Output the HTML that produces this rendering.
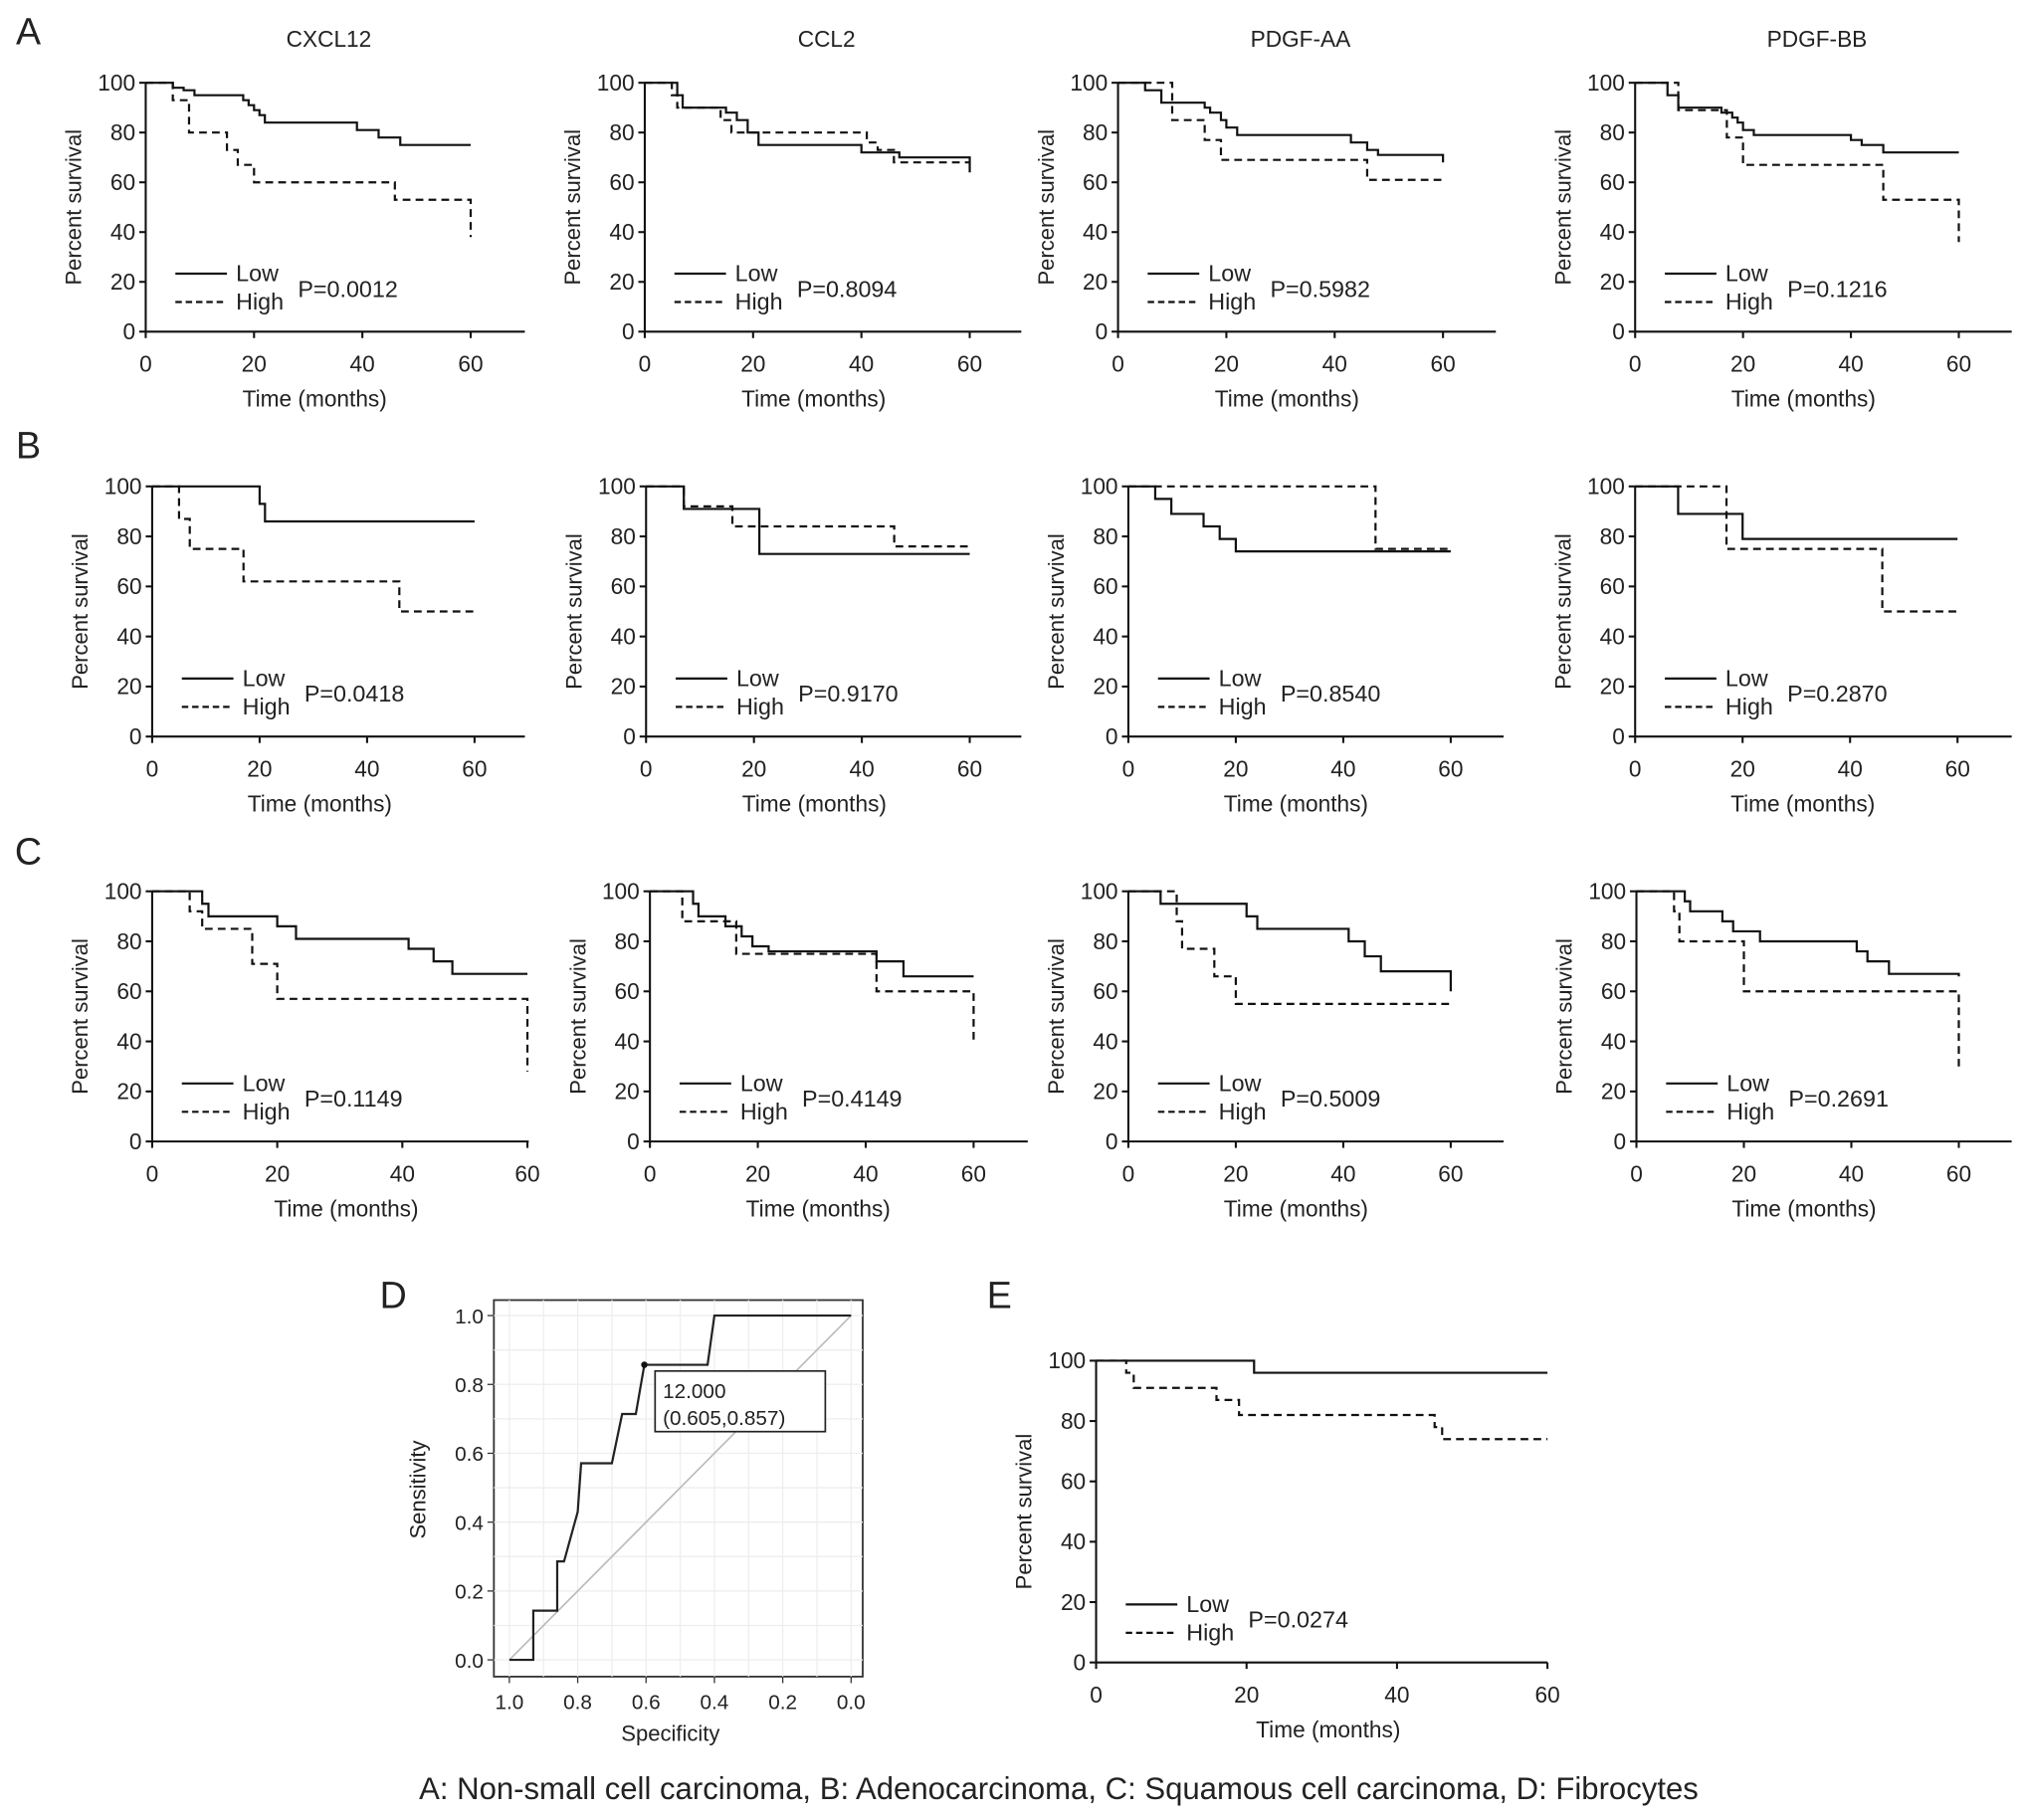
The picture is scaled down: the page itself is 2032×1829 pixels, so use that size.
<!DOCTYPE html>
<html><head><meta charset="utf-8"><style>
html,body{margin:0;padding:0;background:#fff}
svg{display:block}
text{font-family:"Liberation Sans",Arial,sans-serif;fill:#222}
</style></head><body>
<svg id="fig" width="2032" height="1829" viewBox="0 0 1568 1411" xmlns="http://www.w3.org/2000/svg"></svg>
<script>
// ---- data: [time(months), percent survival after step] ----
const a1Low=[[0,100],[5,98],[7,97],[9,95],[18,93],[19,91],[20,89],[21,87],[22,84],[39,81],[43,78],[47,75],[60,75]];
const a1High=[[0,100],[5,93],[8,80],[15,73],[17,67],[20,60],[46,53],[60,53],[60,38]];
const a2Low=[[0,100],[6,95],[7,90],[15,88],[17,85],[19,80],[21,75],[40,72],[47,70],[60,70],[60,64]];
const a2High=[[0,100],[5,95],[6,90],[14,85],[16,80],[41,76],[43,73],[46,68],[60,68]];
const a3Low=[[0,100],[5,97],[8,92],[16,90],[17,88],[19,85],[20,82],[22,79],[43,76],[46,73],[48,71],[60,71],[60,68]];
const a3High=[[0,100],[10,85],[16,77],[19,69],[46,61],[60,61]];
const a4Low=[[0,100],[6,95],[8,90],[16,88],[18,86],[19,84],[20,81],[22,79],[40,77],[42,75],[46,72],[60,72]];
const a4High=[[0,100],[8,89],[17,78],[20,67],[46,53],[60,53],[60,36]];
const b1Low=[[0,100],[20,93],[21,86],[60,86]];
const b1High=[[0,100],[5,87],[7,75],[17,62],[46,50],[60,50]];
const b2Low=[[0,100],[7,91],[21,73],[60,73]];
const b2High=[[0,100],[7,92],[16,84],[46,76],[60,75]];
const b3Low=[[0,100],[5,95],[8,89],[14,84],[17,79],[20,74],[60,74]];
const b3High=[[0,100],[46,75],[60,75]];
const b4Low=[[0,100],[8,89],[20,79],[60,79]];
const b4High=[[0,100],[17,75],[46,50],[60,50]];
const c1Low=[[0,100],[8,95],[9,90],[20,86],[23,81],[41,77],[45,72],[48,67],[60,67]];
const c1High=[[0,100],[6,92],[8,85],[16,71],[20,57],[60,57],[60,28]];
const c2Low=[[0,100],[8,95],[9,90],[14,86],[17,82],[19,78],[22,76],[42,72],[47,66],[60,66]];
const c2High=[[0,100],[6,88],[16,75],[42,60],[60,60],[60,40]];
const c3Low=[[0,100],[6,95],[22,90],[24,85],[41,80],[44,74],[47,68],[60,68],[60,60]];
const c3High=[[0,100],[9,88],[10,77],[16,66],[20,55],[60,55]];
const c4Low=[[0,100],[9,96],[10,92],[16,88],[18,84],[23,80],[41,76],[43,72],[47,67],[60,66]];
const c4High=[[0,100],[7,92],[8,80],[20,60],[60,60],[60,30]];
const eLow=[[0,100],[21,96],[60,96]];
const eHigh=[[0,100],[4,96],[5,91],[16,87],[19,82],[45,78],[46,74],[60,74]];
const yTicks=[0,20,40,60,80,100];
const xTicks=[0,20,40,60];
const titles=["CXCL12","CCL2","PDGF-AA","PDGF-BB"];
const pvals=[["P=0.0012","P=0.8094","P=0.5982","P=0.1216"],["P=0.0418","P=0.9170","P=0.8540","P=0.2870"],["P=0.1149","P=0.4149","P=0.5009","P=0.2691"]];
const rocSpec=[1.0,0.93,0.93,0.86,0.86,0.84,0.80,0.79,0.70,0.67,0.63,0.605,0.42,0.40,0.0];
const rocSens=[0,0,0.143,0.143,0.286,0.286,0.43,0.571,0.571,0.714,0.714,0.857,0.857,1.0,1.0];
const rocTicks=[0,0.2,0.4,0.6,0.8,1.0];

const NS="http://www.w3.org/2000/svg";
const svg=document.getElementById('fig');
function mk(tag,attrs,parent){const e=document.createElementNS(NS,tag);for(const k in attrs)e.setAttribute(k,attrs[k]);(parent||svg).appendChild(e);return e;}
function txt(s,x,y,size,anchor,parent,extra){const t=mk('text',Object.assign({x:x,y:y,'font-size':size,'text-anchor':anchor||'middle'},extra||{}),parent);t.textContent=s;return t;}

function kmPanel(name,x0,x60,xEnd,y0,y100,low,high,p,title){
  const g=mk('g',{});
  
  
  const sx=t=>x0+(x60-x0)*t/60, sy=v=>y0+(y100-y0)*v/100;
  const ax=mk('g',{stroke:'#111','stroke-width':1.6,fill:'none'},g);
  
  
  mk('line',{x1:x0,y1:y100,x2:x0,y2:y0},ax);
  mk('line',{x1:x0,y1:y0,x2:xEnd,y2:y0},ax);
  yTicks.forEach(v=>{mk('line',{x1:x0-5,y1:sy(v),x2:x0,y2:sy(v)},ax);
    const t=txt(String(v),x0-8,sy(v)+6,17.5,'end',g);
    
    });
  xTicks.forEach(v=>{mk('line',{x1:sx(v),y1:y0,x2:sx(v),y2:y0+5},ax);
    const t=txt(String(v),sx(v),y0+31,17.5,'middle',g);
    
    });
  const xl=txt('Time (months)',(x0+x60)/2+5,y0+58,17.5,'middle',g);
  
  
  const yl=txt('Percent survival',0,0,17,'middle',g,{transform:`translate(${x0-50},${(y0+y100)/2}) rotate(-90)`});
  
  
  if(title){const tt=txt(title,(x0+xEnd)/2-5,36,17.5,'middle',g);
    
    }
  [[low,'none','low-survival-curve'],[high,'6,4','high-survival-curve']].forEach(([d,dash,nm])=>{
    let pts=[];d.forEach((pt,i)=>{if(i>0)pts.push([sx(pt[0]),sy(d[i-1][1])]);pts.push([sx(pt[0]),sy(pt[1])]);});
    const pl=mk('polyline',{points:pts.map(q=>q.join(',')).join(' '),fill:'none',stroke:'#111','stroke-width':1.7,'stroke-dasharray':dash},g);
    
    
  });
  const ly=y0-45;
  const lg=mk('g',{},g);
  
  
  mk('line',{x1:x0+23,y1:ly,x2:x0+63,y2:ly,stroke:'#111','stroke-width':1.7},lg);
  mk('line',{x1:x0+23,y1:ly+22,x2:x0+63,y2:ly+22,stroke:'#111','stroke-width':1.7,'stroke-dasharray':'5,3'},lg);
  txt('Low',x0+70,ly+6,18,'start',lg);
  txt('High',x0+70,ly+28,18,'start',lg);
  const pt=txt(p,x0+118,ly+18,18,'start',g);
  
  
}

const rows=[
 {y0:257,y100:64,cols:[[113,365,407],[500,752,792],[867,1119,1160],[1268,1519,1560]],data:[[a1Low,a1High],[a2Low,a2High],[a3Low,a3High],[a4Low,a4High]],tag:'a'},
 {y0:571,y100:377,cols:[[118,368,407],[501,752,792],[875,1125,1166],[1268,1518,1560]],data:[[b1Low,b1High],[b2Low,b2High],[b3Low,b3High],[b4Low,b4High]],tag:'b'},
 {y0:885,y100:691,cols:[[118,409,410],[504,755,797],[875,1125,1166],[1269,1519,1560]],data:[[c1Low,c1High],[c2Low,c2High],[c3Low,c3High],[c4Low,c4High]],tag:'c'}];
rows.forEach((r,ri)=>r.cols.forEach((c,ci)=>kmPanel(`km-panel-${r.tag}-${titles[ci].toLowerCase()}`,c[0],c[1],c[2],r.y0,r.y100,r.data[ci][0],r.data[ci][1],pvals[ri][ci],ri===0?titles[ci]:null)));
kmPanel('km-panel-e',850,1200,1200,1289,1055,eLow,eHigh,'P=0.0274',null);

[['A',22,34],['B',22,355],['C',22,670],['D',305,1014],['E',775,1014]].forEach(([l,x,y])=>{
  const t=txt(l,x,y,29,'middle');
  
  });

const rg=mk('g',{});


const rx=s=>395+(660-395)*(1-s), ry=v=>1287+(1020-1287)*v;
mk('rect',{x:383,y:1008,width:286,height:292,fill:'#fff',stroke:'#333','stroke-width':1.4},rg);
[0.1,0.3,0.5,0.7,0.9,0,0.2,0.4,0.6,0.8,1].forEach(v=>{
  mk('line',{x1:383,x2:669,y1:ry(v),y2:ry(v),stroke:'#eee','stroke-width':1},rg);
  mk('line',{y1:1008,y2:1300,x1:rx(v),x2:rx(v),stroke:'#eee','stroke-width':1},rg);});
mk('line',{x1:rx(1),y1:ry(0),x2:rx(0),y2:ry(1),stroke:'#bbb','stroke-width':1.3},rg);
rocTicks.forEach(v=>{
  mk('line',{x1:378,x2:383,y1:ry(v),y2:ry(v),stroke:'#333'},rg);
  const a=txt(v.toFixed(1),375,ry(v)+6,16,'end',rg);
  
  
  mk('line',{y1:1300,y2:1305,x1:rx(v),x2:rx(v),stroke:'#333'},rg);
  const b=txt(v.toFixed(1),rx(v),1325,16,'middle',rg);
  
  });
const rp=mk('polyline',{points:rocSpec.map((s,i)=>rx(s)+','+ry(rocSens[i])).join(' '),fill:'none',stroke:'#222','stroke-width':1.7},rg);


mk('circle',{cx:rx(0.605),cy:ry(0.857),r:2.5,fill:'#111'},rg);
const ab=mk('rect',{x:508,y:1063,width:132,height:47,fill:'#fff',stroke:'#222','stroke-width':1.3},rg);


txt('12.000',514,1084,16,'start',rg);
txt('(0.605,0.857)',514,1105,16,'start',rg);
const sp=txt('Specificity',520,1350,17,'middle',rg);


const se=txt('Sensitivity',0,0,17,'middle',rg,{transform:'translate(330,1155) rotate(-90)'});



const cap=txt('A: Non-small cell carcinoma, B: Adenocarcinoma, C: Squamous cell carcinoma, D: Fibrocytes',821,1395,24,'middle');


</script>
</body></html>
